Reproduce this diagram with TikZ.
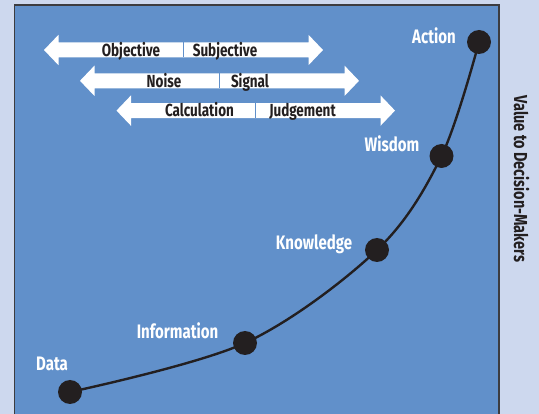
\documentclass[tikz,border=0pt]{standalone}
\usepackage{fontspec}
\setmainfont{Fira Sans}[FakeStretch=0.77]
\definecolor{outerbg}{HTML}{CDD8EE}
\definecolor{panel}{HTML}{6190CA}
\definecolor{frame}{HTML}{3C3C40}
\definecolor{ink}{HTML}{231F20}
\newcommand\myarrow[4]{%
  \fill[white] (#1,#3) -- ({#1+14.5},{#3-15.2}) -- ({#1+14.5},{#3-7.5}) -- ({#2-14.5},{#3-7.5}) -- ({#2-14.5},{#3-15.2}) -- (#2,#3) -- ({#2-14.5},{#3+15.2}) -- ({#2-14.5},{#3+7.5}) -- ({#1+14.5},{#3+7.5}) -- ({#1+14.5},{#3+15.2}) -- cycle;
  \draw[panel, line width=1pt] (#4,{#3-7.5}) -- (#4,{#3+7.5});}
\begin{document}
\begin{tikzpicture}[x=1pt,y=-1pt,
  lbl/.style={font=\bfseries\fontsize{19.5}{20}\selectfont, text=white, anchor=base, inner sep=0pt},
  atxt/.style={font=\bfseries\fontsize{17.5}{18}\selectfont, text=ink, anchor=base, inner sep=0pt},
  dot/.style={circle, fill=ink, minimum size=24pt, inner sep=0pt},
  curve/.style={draw=ink, line width=2.4pt}]
\useasboundingbox (0,0) rectangle (539,414);
\fill[outerbg] (0,0) rectangle (539,414);
\fill[panel] (14.5,5) rectangle (499,420);
\draw[frame, line width=1.5pt] (14.5,420) -- (14.5,5) -- (499,5) -- (499,420);
% arrows
\myarrow{44}{323}{50}{183}
\myarrow{80}{359}{80.8}{219}
\myarrow{116.5}{395}{110.6}{255}
\node[atxt] (obj) at (131,56.5) {Objective};
\node[atxt] (subj) at (225,56.5) {Subjective};
\node[atxt] (noise) at (164,87.3) {Noise};
\node[atxt] (signal) at (250,87.3) {Signal};
\node[atxt] (calc) at (199.5,117) {Calculation};
\node[atxt] (judg) at (302.5,117) {Judgement};
% curve
\coordinate (pd) at (70,392);
\coordinate (pi) at (245,343);
\coordinate (pk) at (377,250);
\coordinate (pw) at (441.5,156);
\coordinate (pa) at (479,42);
\draw[curve] plot[smooth, tension=0.55] coordinates {(pd) (pi) (pk) (pw) (pa)};
\node[dot] (d) at (pd) {};
\node[dot] (i) at (pi) {};
\node[dot] (k) at (pk) {};
\node[dot] (w) at (pw) {};
\node[dot] (a) at (pa) {};
\node[lbl] (la) at (434,44) {Action};
\node[lbl] (lw) at (392,152) {Wisdom};
\node[lbl] (lk) at (314,250) {Knowledge};
\node[lbl] (li) at (177.5,339) {Information};
\node[lbl] (ld) at (52,371) {Data};
\node[font=\bfseries\fontsize{18.8}{19}\selectfont, text=ink, rotate=-90, inner sep=0pt] (val) at (521.5,179) {Value to Decision-Makers};
\end{tikzpicture}
\end{document}
